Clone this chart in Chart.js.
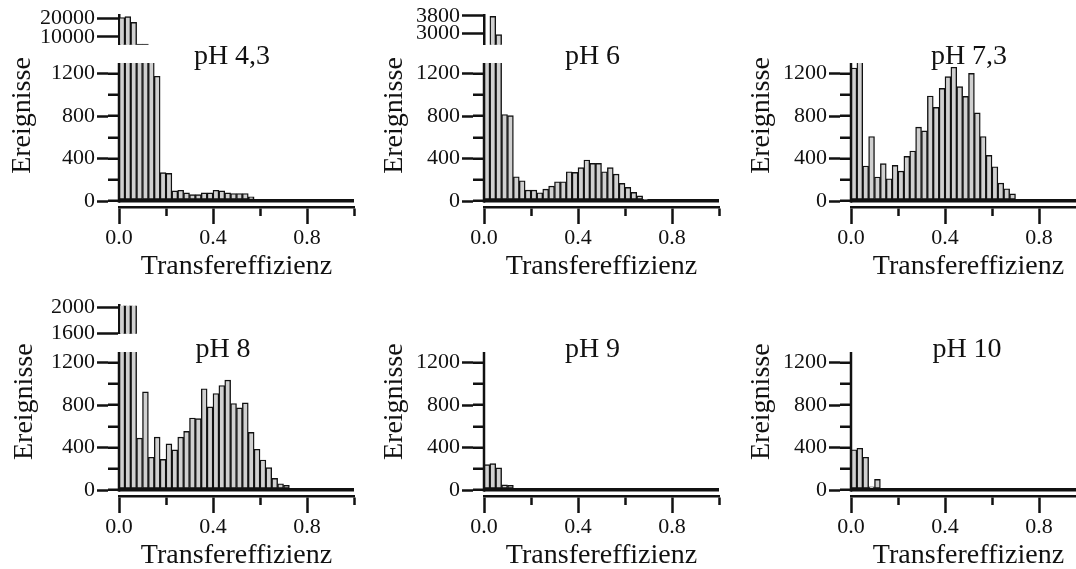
<!DOCTYPE html>
<html lang="de">
<head>
<meta charset="utf-8">
<title>Transfereffizienz</title>
<script src="https://cdn.jsdelivr.net/npm/chart.js@4.4.1/dist/chart.umd.min.js"></script>
<style>
    html, body { margin: 0; padding: 0; background: #fff; overflow: hidden; }
    #page { position: relative; width: 1076px; height: 569px; overflow: hidden; }
    #page canvas { position: absolute; }
</style>
</head>
<body>
<div id="page"></div>
<script>
// bins of 0.025 from 0.0 to 1.0
const binLabels = Array.from({ length: 40 }, (_, i) => (i * 0.025).toFixed(3));

const phLabels = ["pH 4,3", "pH 6", "pH 7,3", "pH 8", "pH 9", "pH 10"];

const countsPh43 = [
    20500, 21000, 17800, 6100, 6100, 4000, 1175, 269, 262, 97,
    103, 78, 62, 62, 78, 78, 103, 97, 78, 72,
    72, 72, 40, 0, 0, 0, 0, 0, 0, 0,
    0, 0, 0, 0, 0, 0, 0, 0, 0, 0,
];
const countsPh6 = [
    2400, 3780, 2940, 815, 805, 230, 192, 104, 104, 79,
    113, 142, 183, 183, 277, 271, 315, 387, 356, 356,
    277, 315, 255, 167, 129, 82, 50, 15, 0, 0,
    0, 0, 0, 0, 0, 0, 0, 0, 0, 0,
];
const countsPh73 = [
    1253, 1500, 331, 608, 227, 353, 211, 337, 283, 422,
    472, 696, 661, 989, 882, 1061, 1172, 1260, 1077, 986,
    1203, 831, 608, 431, 324, 170, 117, 69, 0, 0,
    0, 0, 0, 0, 0, 0, 0, 0, 0, 0,
];
const countsPh8 = [
    2500, 2500, 2500, 490, 925, 310, 499, 290, 436, 379,
    499, 553, 679, 673, 954, 783, 909, 985, 1036, 815,
    774, 821, 543, 385, 284, 212, 111, 60, 45, 0,
    0, 0, 0, 0, 0, 0, 0, 0, 0, 0,
];
const countsPh9 = [
    240, 250, 210, 50, 45, 0, 0, 0, 0, 0,
    0, 0, 0, 0, 0, 0, 0, 0, 0, 0,
    0, 0, 0, 0, 0, 0, 0, 0, 0, 0,
    0, 0, 0, 0, 0, 0, 0, 0, 0, 0,
];
const countsPh10 = [
    380, 394, 310, 32, 102, 0, 0, 0, 0, 0,
    0, 0, 0, 0, 0, 0, 0, 0, 0, 0,
    0, 0, 0, 0, 0, 0, 0, 0, 0, 0,
    0, 0, 0, 0, 0, 0, 0, 0, 0, 0,
];

// lower (main) y range and ticks
const lowerRange = [-55, 1300];
const lowerMajorTicks = [0, 400, 800, 1200];
const lowerMinorTicks = [0, 200, 400, 600, 800, 1000, 1200];

// upper parts of the broken axes
const upperRangePh43 = [5650, 21740];
const upperTicksPh43 = [10000, 20000];
const upperRangePh6 = [2470, 3836];
const upperTicksPh6 = [3000, 3800];
const upperRangePh8 = [1595, 2022];
const upperTicksPh8 = [1600, 2000];

const xMajorTicks = [0, 0.4, 0.8];
const xMinorTicks = [0, 0.2, 0.4, 0.6, 0.8, 1.0];

Chart.defaults.font.family = "'Liberation Serif', 'Times New Roman', serif";
Chart.defaults.color = "#111";

const ink = "#111";
const barFill = "#d0d0d0";
const tickFont = { size: 22 };
const titleFont = { size: 28 };

// where each panel sits on the page, and where its labels go
const panels = [
    { label: phLabels[0], counts: countsPh43, left: 0, top: 0, labelX: 232, labelY: 64, titleX: 30, titleY: 115.5,
      upper: { range: upperRangePh43, ticks: upperTicksPh43, top: 15, bottom: 52 } },
    { label: phLabels[1], counts: countsPh6, left: 365, top: 0, labelX: 227.5, labelY: 64, titleX: 36.7, titleY: 115.5,
      upper: { range: upperRangePh6, ticks: upperTicksPh6, top: 15, bottom: 53 } },
    { label: phLabels[2], counts: countsPh73, left: 732, top: 0, labelX: 237, labelY: 64, titleX: 37.3, titleY: 115.5 },
    { label: phLabels[3], counts: countsPh8, left: 0, top: 289, labelX: 223, labelY: 67.7, titleX: 31.7, titleY: 112.7,
      upper: { range: upperRangePh8, ticks: upperTicksPh8, top: 16.7, bottom: 47.4 } },
    { label: phLabels[4], counts: countsPh9, left: 365, top: 289, labelX: 227.5, labelY: 67.7, titleX: 36.7, titleY: 112.7 },
    { label: phLabels[5], counts: countsPh10, left: 732, top: 289, labelX: 235, labelY: 67.7, titleX: 37.3, titleY: 112.7 },
];

function makeCanvas(left, top, width, height) {
    const canvas = document.createElement("canvas");
    canvas.width = width;
    canvas.height = height;
    canvas.style.left = left + "px";
    canvas.style.top = top + "px";
    canvas.style.width = width + "px";
    canvas.style.height = height + "px";
    document.getElementById("page").appendChild(canvas);
    return canvas;
}

function setTicks(values) {
    return (scale) => {
        scale.ticks = values.map((v) => ({ value: v }));
    };
}

function barDataset(counts) {
    return {
        data: counts,
        backgroundColor: barFill,
        borderColor: ink,
        borderWidth: 1.4,
        borderSkipped: false,
        categoryPercentage: 1,
        barPercentage: 1,
        clip: 0,
    };
}

// y axis line stops at the zero line, the pH label and the rotated y title
const panelText = {
    id: "panelText",
    afterDraw(chart, args, opts) {
        const { ctx, chartArea, scales } = chart;
        const y0 = scales.y.getPixelForValue(0);
        ctx.save();
        ctx.strokeStyle = ink;
        ctx.lineWidth = 2.5;
        ctx.beginPath();
        ctx.moveTo(chartArea.left, y0 + 1.5);
        ctx.lineTo(chartArea.left, chartArea.top);
        ctx.stroke();

        ctx.fillStyle = ink;
        ctx.font = "28px 'Liberation Serif', 'Times New Roman', serif";
        ctx.textAlign = "center";
        ctx.textBaseline = "alphabetic";
        ctx.fillText(opts.label, opts.labelX, opts.labelY);

        ctx.translate(opts.titleX, opts.titleY);
        ctx.rotate(-Math.PI / 2);
        ctx.fillText("Ereignisse", 0, 0);
        ctx.restore();
    },
};

function lowerChart(p) {
    const canvas = makeCanvas(p.left, p.top, 364, 286);
    return new Chart(canvas, {
        type: "bar",
        data: { labels: binLabels, datasets: [barDataset(p.counts)] },
        options: {
            responsive: false,
            animation: false,
            events: [],
            layout: { padding: { top: 63, right: 10, left: 0, bottom: 0 } },
            plugins: {
                legend: { display: false },
                tooltip: { enabled: false },
                panelText: { label: p.label, labelX: p.labelX, labelY: p.labelY, titleX: p.titleX, titleY: p.titleY },
            },
            scales: {
                x: { type: "category", display: false, offset: true },
                xMinor: {
                    type: "linear", axis: "x", position: "bottom", min: 0, max: 1, weight: 0, offset: false,
                    afterBuildTicks: setTicks(xMinorTicks),
                    afterFit: (s) => { s.height = 9; },
                    grid: { offset: false, drawOnChartArea: false, tickLength: 9, tickWidth: 2.5, tickColor: ink },
                    border: { color: ink, width: 2.5 },
                    ticks: { display: false, autoSkip: false },
                },
                xMajor: {
                    type: "linear", axis: "x", position: "bottom", min: 0, max: 1, weight: 1, offset: false,
                    afterBuildTicks: setTicks(xMajorTicks),
                    afterFit: (s) => { s.height = 70; },
                    grid: { offset: false, drawOnChartArea: false, tickLength: 8, tickWidth: 2.5, tickColor: ink },
                    border: { display: false },
                    ticks: { font: tickFont, padding: 1, maxRotation: 0, autoSkip: false, callback: (v) => v.toFixed(1) },
                    title: { display: true, text: "Transfereffizienz", font: titleFont, padding: { top: 0, bottom: 3 } },
                },
                y: {
                    type: "linear", position: "left", min: lowerRange[0], max: lowerRange[1], weight: 0,
                    afterBuildTicks: setTicks(lowerMinorTicks),
                    afterFit: (s) => { s.width = 11; },
                    grid: {
                        color: (c) => (c.tick && c.tick.value === 0 ? ink : "rgba(0,0,0,0)"),
                        lineWidth: 3.5,
                        tickLength: 11, tickWidth: 2.5, tickColor: ink,
                    },
                    border: { display: false },
                    ticks: { display: false, autoSkip: false },
                },
                yMajor: {
                    type: "linear", axis: "y", position: "left", min: lowerRange[0], max: lowerRange[1], weight: 1,
                    afterBuildTicks: setTicks(lowerMajorTicks),
                    afterFit: (s) => { s.width = 108; },
                    grid: { drawOnChartArea: false, tickLength: 11, tickWidth: 2.5, tickColor: ink },
                    border: { display: false },
                    ticks: { font: tickFont, padding: 2, autoSkip: false, callback: (v) => String(v) },
                },
            },
        },
        plugins: [panelText],
    });
}

// top piece of a broken y axis
function upperChart(p) {
    const u = p.upper;
    const canvas = makeCanvas(p.left, p.top, 364, 60);
    return new Chart(canvas, {
        type: "bar",
        data: { labels: binLabels, datasets: [barDataset(p.counts)] },
        options: {
            responsive: false,
            animation: false,
            events: [],
            layout: { padding: { top: u.top, right: 10, left: 0, bottom: 60 - u.bottom } },
            plugins: { legend: { display: false }, tooltip: { enabled: false } },
            scales: {
                x: { type: "category", display: false, offset: true },
                y: {
                    type: "linear", position: "left", min: u.range[0], max: u.range[1],
                    afterBuildTicks: setTicks(u.ticks),
                    afterFit: (s) => { s.width = 119; },
                    grid: { drawOnChartArea: false, tickLength: 22, tickWidth: 2.5, tickColor: ink },
                    border: { color: ink, width: 2.5 },
                    ticks: { font: tickFont, padding: 2, autoSkip: false, callback: (v) => String(v) },
                },
            },
        },
    });
}

panels.forEach((p) => {
    lowerChart(p);
    if (p.upper) upperChart(p);
});
</script>
</body>
</html>
